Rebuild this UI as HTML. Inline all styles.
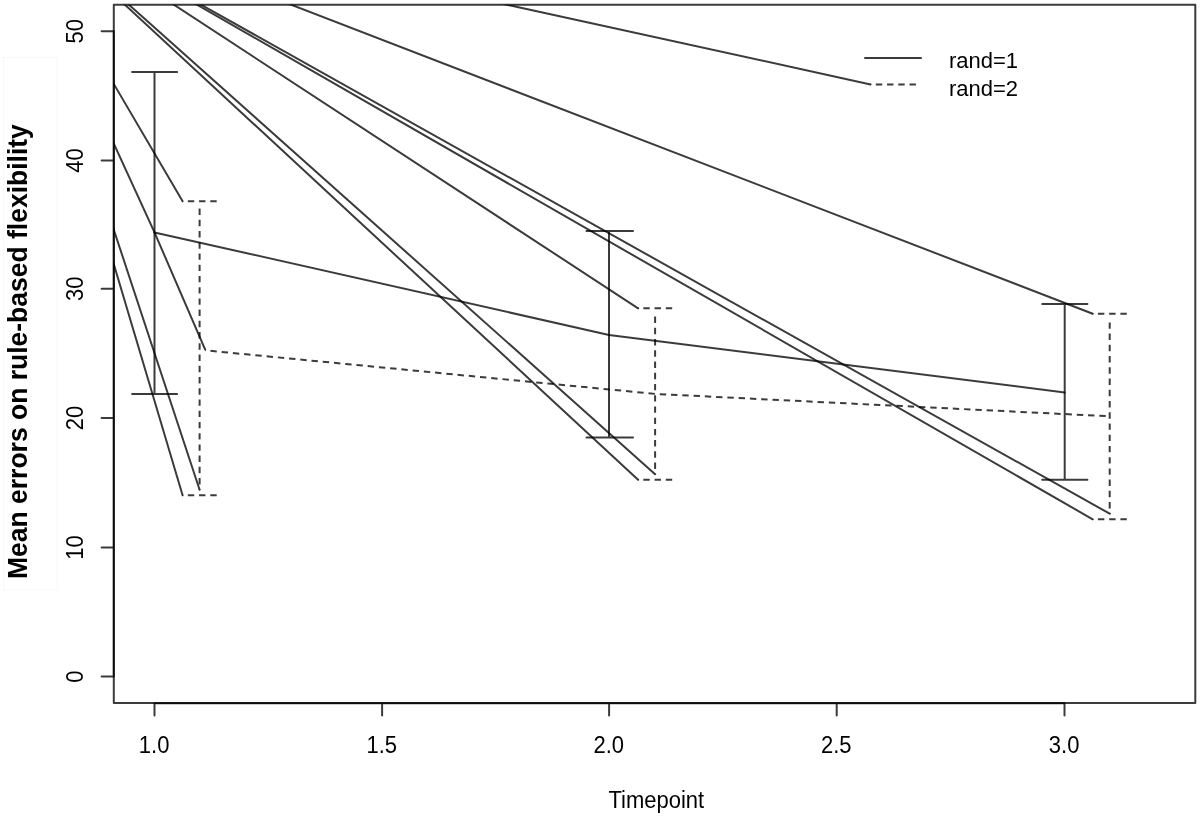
<!DOCTYPE html>
<html>
<head>
<meta charset="utf-8">
<title>Mean errors on rule-based flexibility</title>
<style>
html,body{margin:0;padding:0;background:#fff;}
body{width:1200px;height:816px;overflow:hidden;}
svg{display:block;}
.ax{font-family:"Liberation Sans",Arial,Helvetica,sans-serif;font-size:22px;fill:#000;}
.ttl{font-family:"Liberation Sans",Arial,sans-serif;font-weight:bold;font-size:26.5px;fill:#000;}
.ln{fill:none;stroke:#000;stroke-opacity:0.77;stroke-width:2;stroke-linecap:round;stroke-linejoin:round;}
.ds{stroke-dasharray:6.4 4.83;stroke-dashoffset:6;stroke-linecap:butt;}
</style>
</head>
<body>
<svg width="1200" height="816" viewBox="0 0 1200 816">
<defs>
<clipPath id="pc"><rect x="113.8" y="4.7" width="1081.5" height="698.3"/></clipPath>
</defs>
<rect x="0" y="0" width="1200" height="816" fill="#fff"/>

<!-- diagonal lines (clipped to plot region) -->
<g class="ln" clip-path="url(#pc)">
<path d="M110.22 -8.89 L638.1 479.8"/>
<path d="M113.98 -8.62 L655.1 474.2"/>
<path d="M157.16 -6.25 L638.1 308.3"/>
<path d="M179.66 -5.26 L1092.7 519.3"/>
<path d="M183.55 -5.07 L1109.7 513.7"/>
<path d="M272.44 -2.49 L1092.7 313.7"/>
<path d="M487.46 0.42 L870.6 84.4"/>
<path d="M103.68 66.75 L182.6 201.2"/>
<path d="M105.46 125.52 L154.5 232.4 L205.2 349.6"/>
<path d="M107.53 210.81 L199.6 489.7"/>
<path d="M108.09 245.13 L182.6 495.3"/>
</g>

<!-- error bars rand=1 (solid) -->
<g class="ln">
<path d="M154.5 72.1 L154.5 394 M132.1 72.1 L177.1 72.1 M132.1 394 L177.1 394"/>
<path d="M609 230.9 L609 437.5 M586.5 230.9 L633 230.9 M586.5 437.5 L633 437.5"/>
<path d="M1064.7 303.9 L1064.7 479.7 M1042.2 303.9 L1087.4 303.9 M1042.2 479.7 L1087.4 479.7"/>
<path d="M154.5 232.4 L609 334.9 L1064.7 392.4"/>
</g>
<!-- error bars rand=2 (dashed); first dash of each path replaced by the diagonal segments -->
<g class="ln ds">
<path d="M199.6 489.7 L199.6 206"/>
<path d="M182.6 201.2 L220.6 201.2"/><path d="M182.6 495.3 L220.6 495.3"/>
<path d="M655.1 474.2 L655.1 314"/>
<path d="M638.1 308.3 L676.1 308.3"/><path d="M638.1 479.8 L676.1 479.8"/>
<path d="M1109.7 513.7 L1109.7 320"/>
<path d="M1092.7 313.7 L1130.7 313.7"/><path d="M1092.7 519.3 L1130.7 519.3"/>
<path d="M205.17 350.34 L655.1 393.9 L1109.7 416.3" style="stroke-dasharray:6.4 4.885"/>
</g>

<!-- axes box -->
<rect x="113.8" y="4.7" width="1081.5" height="698.3" class="ln"/>
<!-- y axis (drawn over box, as in R) -->
<path class="ln" d="M113.8 31.25 L113.8 676.60 M101.6 31.25 L113.8 31.25 M101.6 160.40 L113.8 160.40 M101.6 288.80 L113.8 288.80 M101.6 418.00 L113.8 418.00 M101.6 547.40 L113.8 547.40 M101.6 676.60 L113.8 676.60"/>
<!-- x axis -->
<path class="ln" d="M154.50 703.2 L1064.50 703.2 M154.50 703.2 L154.50 715.4 M382.10 703.2 L382.10 715.4 M609.10 703.2 L609.10 715.4 M836.70 703.2 L836.70 715.4 M1064.50 703.2 L1064.50 715.4"/>

<!-- y labels -->
<g class="ax" text-anchor="middle">
<text transform="translate(83.4 676.6) rotate(-90) scale(1 1.12)">0</text>
<text transform="translate(83.4 547.4) rotate(-90) scale(1 1.12)">10</text>
<text transform="translate(83.4 418.0) rotate(-90) scale(1 1.12)">20</text>
<text transform="translate(83.4 288.8) rotate(-90) scale(1 1.12)">30</text>
<text transform="translate(83.4 160.4) rotate(-90) scale(1 1.12)">40</text>
<text transform="translate(83.4 31.25) rotate(-90) scale(1 1.12)">50</text>
</g>
<!-- x labels -->
<g class="ax" text-anchor="middle">
<text transform="translate(154.1 753.2) scale(1 1.09)">1.0</text>
<text transform="translate(381.7 753.2) scale(1 1.09)">1.5</text>
<text transform="translate(608.7 753.2) scale(1 1.09)">2.0</text>
<text transform="translate(836.3 753.2) scale(1 1.09)">2.5</text>
<text transform="translate(1064.1 753.2) scale(1 1.09)">3.0</text>
<text transform="translate(656.3 807.8) scale(1 1.05)">Timepoint</text>
</g>

<!-- legend -->
<path class="ln" d="M865 58 L921 58"/>
<path class="ln ds" d="M870.6 84.4 L920.3 84.4"/>
<g class="ax">
<text transform="translate(949 67.9) scale(1 1.04)">rand=1</text>
<text transform="translate(949 96) scale(1 1.04)">rand=2</text>
</g>

<!-- y title (pasted text box with faint outline) -->
<rect x="3.4" y="57.6" width="53.6" height="532.4" fill="none" stroke="#f8f8f8" stroke-width="1"/>
<text class="ttl" text-anchor="middle" transform="translate(26.8 351.6) rotate(-90) scale(1 1.06)">Mean errors on rule-based flexibility</text>
</svg>
</body>
</html>
